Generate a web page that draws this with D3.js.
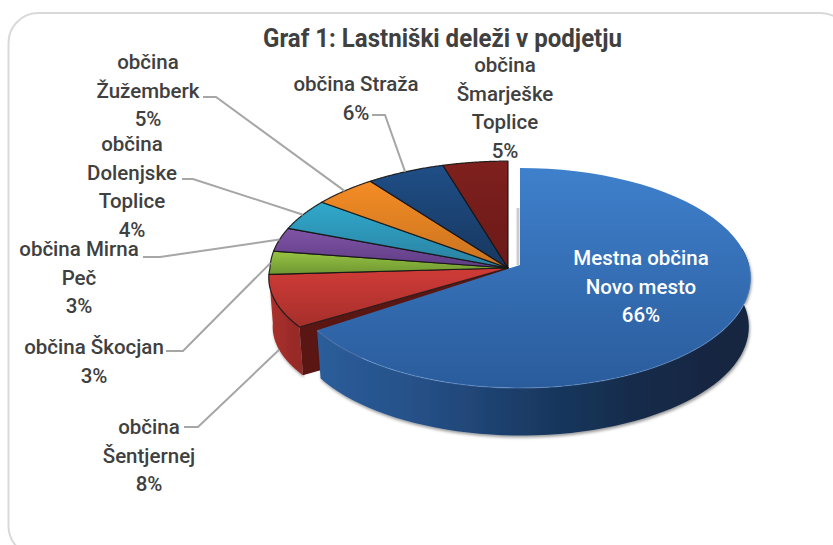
<!DOCTYPE html>
<html><head><meta charset="utf-8">
<script src="https://cdn.jsdelivr.net/npm/d3@7"></script>
<style>html,body{margin:0;padding:0;background:#fff}svg{display:block}
text{font-family:Roboto,"Noto Sans",sans-serif;fill:#404040;text-anchor:middle}</style>
</head><body><svg id="c" width="833" height="545"></svg>
<script>
const titleText = "Graf 1: Lastniški deleži v podjetju";
const categories = ["Mestna občina Novo mesto","občina Šentjernej","občina Škocjan","občina Mirna Peč","občina Dolenjske Toplice","občina Žužemberk","občina Straža","občina Šmarješke Toplice"];
const shareValues = [65.5, 8.49, 3.49, 3.49, 4.49, 4.54, 5.5, 4.5];
const labelLines = [["Mestna občina","Novo mesto"],["občina","Šentjernej"],["občina Škocjan"],["občina Mirna","Peč"],["občina","Dolenjske","Toplice"],["občina","Žužemberk"],["občina Straža"],["občina","Šmarješke","Toplice"]];
const topColors = [["#3f80cc","#2a5c9c"],["#d03b37","#a52f2b"],["#97c443","#6f9632"],["#8054a6","#5f3c84"],["#30a9cc","#2a80a0"],["#f48c25","#c9731f"],["#1f4e86","#17375f"],["#7f201e","#6a1a18"]];
const labelX = [641,149,94,79,132,148,356,505];
const labelY = [265,434,354,256,151,69,91,72];
const elbows = [null,[[184,427],[198,427]],[[166,351],[183,351]],[[143,257],[160,257]],[[182,179],[193,179]],[[203,97],[216,97]],[[372,115],[385,115]],null];

const svg = d3.select("#c"), defs = svg.append("defs");
svg.append("rect").attr("x",8.5).attr("y",13).attr("width",842).attr("height",543).attr("rx",30)
  .attr("fill","#fff").attr("stroke","#d9d9d9").attr("stroke-width",2);

const pie = d3.pie().sort(null).value(d=>d).startAngle(0).endAngle(2*Math.PI);
const arcs = pie(shareValues);
const blueGeo = {cx:520,cy:265,R:229,Sb:108.5,St:108.5,pb:.118,pt:.118};
const restGeo = {cx:508,cy:268,R:238,Sb:99,St:109,pb:.1,pt:.02};
const depth = 49, shrink = .988;
function proj(g,a,r=1,low=false){
  const u=Math.sin(a)*r, v=-Math.cos(a)*r, front=v>=0, w=1-(front?g.pb:g.pt)*v, k=low?shrink:1;
  return [g.cx+g.R*u/w*k+(low?1:0), g.cy+(front?g.Sb:g.St)*v/w*k+(low?depth:0)];
}
function rimPts(g,a0,a1,low){return d3.range(0,61).map(i=>proj(g,a0+(a1-a0)*i/60,1,low));}
const line = d3.line();
const close = pts => line(pts)+"Z";
const sector = (g,d)=>close([[g.cx,g.cy],...rimPts(g,d.startAngle,d.endAngle,false)]);

function vGrad(id,c){const lg=defs.append("linearGradient").attr("id",id).attr("x1",0).attr("y1",0).attr("x2",0).attr("y2",1);
  lg.append("stop").attr("offset",0).attr("stop-color",c[0]);lg.append("stop").attr("offset",1).attr("stop-color",c[1]);}
topColors.forEach((c,i)=>vGrad("t"+i,c));
function hGrad(id,x1,x2,stops){const lg=defs.append("linearGradient").attr("id",id).attr("gradientUnits","userSpaceOnUse").attr("x1",x1).attr("x2",x2).attr("y1",0).attr("y2",0);
  stops.forEach(s=>lg.append("stop").attr("offset",s[0]).attr("stop-color",s[1]));}
hGrad("wb",318,750,[[0,"#2b5d9a"],[.25,"#254f86"],[.5,"#1a3a63"],[.75,"#142a48"],[1,"#12263f"]]);
hGrad("wr",270,320,[[0,"#aa302d"],[1,"#862522"]]);
const f=defs.append("filter").attr("id","sh").attr("x","-5%").attr("y","-5%").attr("width","110%").attr("height","115%");
f.append("feDropShadow").attr("dx",1).attr("dy",2).attr("stdDeviation",1.5).attr("flood-color","#000").attr("flood-opacity",.4);

const rest = arcs.slice(1), red = arcs[1], blue = arcs[0];
const g = svg.append("g");
// rest: walls
g.append("path").attr("filter","url(#sh)").attr("fill","url(#wr)")
 .attr("d",close([...rimPts(restGeo,red.startAngle,red.endAngle,false),...rimPts(restGeo,red.startAngle,red.endAngle,true).reverse()]));
g.append("path").attr("fill","#5a1613")
 .attr("d",close([proj(restGeo,red.startAngle),[restGeo.cx,restGeo.cy],[restGeo.cx,restGeo.cy+depth],proj(restGeo,red.startAngle,1,true)]));
// rest: tops
g.selectAll("path.top").data(rest).join("path").attr("class","top")
 .attr("d",d=>sector(restGeo,d)).attr("fill",(d,i)=>`url(#t${i+1})`)
 .attr("stroke","#141414").attr("stroke-opacity",.9).attr("stroke-width",1.2).attr("stroke-linejoin","round");
// soft shadow beside the detached slice
g.append("line").attr("x1",518).attr("x2",518).attr("y1",208).attr("y2",265).attr("stroke","#9a9a9a").attr("stroke-width",3).attr("opacity",.5);
// blue
g.append("path").attr("filter","url(#sh)").attr("fill","url(#wb)")
 .attr("d",close([...rimPts(blueGeo,Math.PI*.45,blue.endAngle,false),...rimPts(blueGeo,Math.PI*.45,blue.endAngle,true).reverse()]));
g.append("path").attr("d",sector(blueGeo,blue)).attr("fill","url(#t0)");
g.append("path").attr("d",line(rimPts(blueGeo,Math.PI*.5,blue.endAngle,false))).attr("fill","none").attr("stroke","#6d9bd6").attr("stroke-opacity",.45).attr("stroke-width",1.2);

// leaders
arcs.forEach((d,i)=>{
  if(!elbows[i]) return;
  const mid=(d.startAngle+d.endAngle)/2;
  const end = proj(restGeo,mid,1,i===1);
  svg.append("path").attr("d",line([...elbows[i],end])).attr("fill","none").attr("stroke","#a6a6a6").attr("stroke-width",2);
});

// text
const fs=20.5, lh=28.6;
arcs.forEach((d,i)=>{
  const lines=[...labelLines[i], Math.round(d.value)+"%"];
  const t=svg.append("text").attr("font-size",fs).attr("font-weight",500).style("fill",i===0?"#fff":"#404040");
  lines.forEach((s,j)=>t.append("tspan").attr("x",labelX[i]).attr("y",labelY[i]+j*lh).text(s));
});
svg.append("text").attr("x",442.5).attr("y",47).attr("font-size",25).attr("font-weight",700)
  .attr("textLength",359).attr("lengthAdjust","spacingAndGlyphs").text(titleText);
</script></body></html>
